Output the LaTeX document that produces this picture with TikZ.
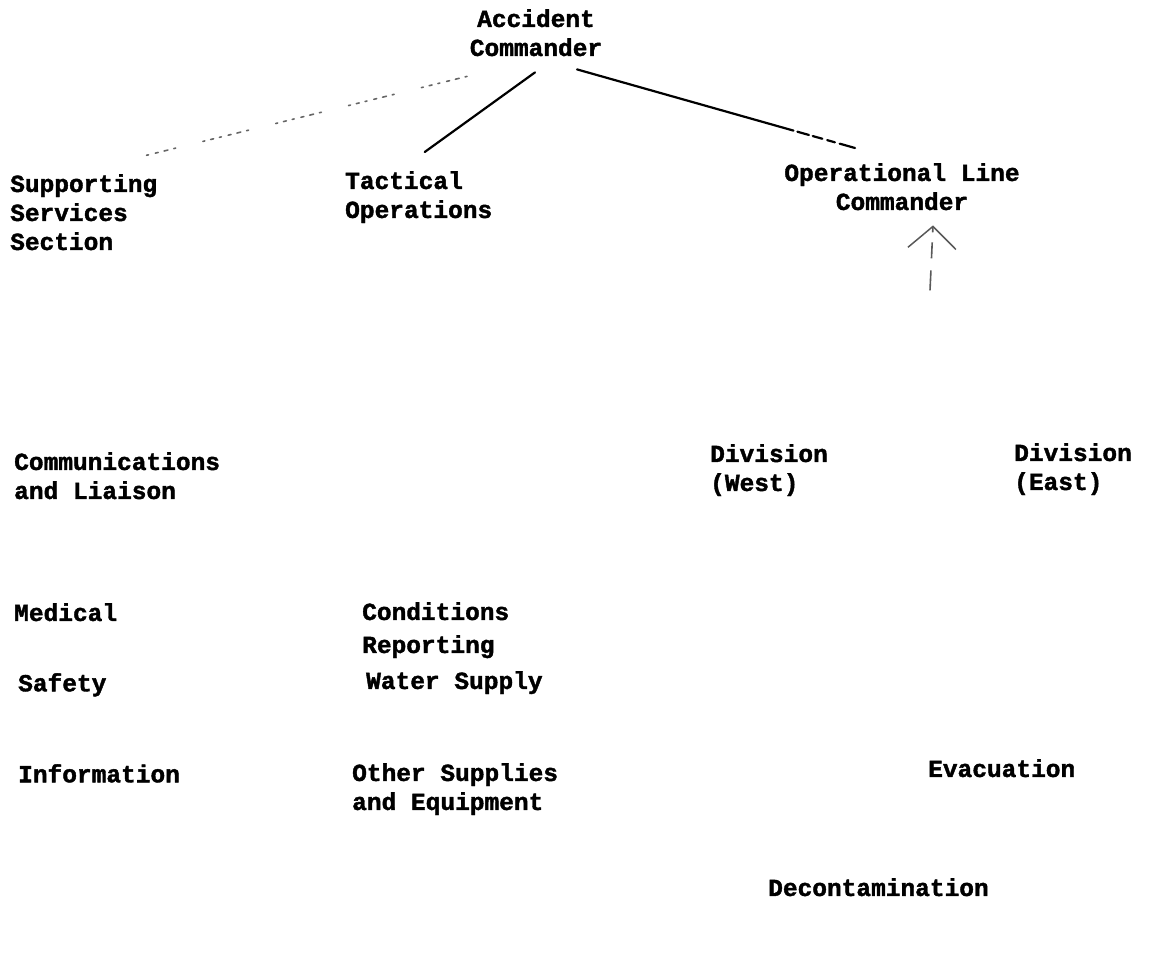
\documentclass[tikz,border=0pt]{standalone}
\usepackage{fontspec}
\newfontfamily\typefont{Liberation Mono}[BoldFont={* Bold}, BoldFeatures={FakeBold=1.6}]
\usetikzlibrary{calc,arrows.meta}
\begin{document}
\begin{tikzpicture}[x=1pt,y=-1pt,
  lbl/.style={font=\typefont\bfseries\fontsize{24.5}{29}\selectfont, inner sep=0pt, anchor=north west, align=left},
  ctr/.style={lbl, anchor=north, align=center},
  solidlink/.style={draw=black, line width=2.2pt, line cap=round},
  fadedlink/.style={draw=black!60, line width=1.6pt, line cap=round, dash pattern=on 2pt off 6pt on 4pt off 6pt on 3pt off 7pt on 2pt off 6pt on 3pt off 6pt on 2pt off 28pt},
  fadedarrow/.style={draw=black!65, line width=1.6pt, dash pattern=on 20pt off 12pt on 16pt off 10pt, -{Straight Barb[length=22pt,width=48pt,line width=1.5pt]}}
]
\useasboundingbox (0,0) rectangle (1151,966);

\node[ctr] (acc) at (536,9) {Accident\\Commander};
\node[lbl] (sup) at (10,174) {Supporting\\Services\\Section};
\node[lbl] (tac) at (345,171) {Tactical\\Operations};
\node[ctr] (olc) at (902,163) {Operational Line\\Commander};

\node[lbl] (com) at (14,452) {Communications\\and Liaison};
\node[lbl] (dw) at (710,444) {Division\\(West)};
\node[lbl] (de) at (1014,443) {Division\\(East)};

\node[lbl] (med) at (14,603) {Medical};
\node[lbl, font=\typefont\bfseries\fontsize{24.5}{33}\selectfont] (cond) at (362,602) {Conditions\\Reporting};
\node[lbl] (saf) at (18,673) {Safety};
\node[lbl] (wat) at (366,671) {Water Supply};
\node[lbl] (inf) at (18,764) {Information};
\node[lbl] (oth) at (352,763) {Other Supplies\\and Equipment};
\node[lbl] (eva) at (928,759) {Evacuation};
\node[lbl] (dec) at (768,878) {Decontamination};

% connectors from the Accident Commander
\draw[fadedlink] ($(acc.south)+(-69,20)$) -- ($(sup.north)+(60,-18)$);
\draw[solidlink] ($(acc.south)+(-1,16)$) -- ($(tac.north)+(6,-19)$);
\draw[solidlink, dash pattern=on 225pt off 4pt on 12pt off 4pt on 10pt off 5pt on 8pt off 5pt on 30pt] ($(acc.south)+(41,13)$) -- ($(olc.north)+(-47,-15)$);

% faded arrow pointing up to the Operational Line Commander
\draw[fadedarrow] ($(olc.south)+(28,80)$) -- ($(olc.south)+(31,15)$);
\end{tikzpicture}
\end{document}
